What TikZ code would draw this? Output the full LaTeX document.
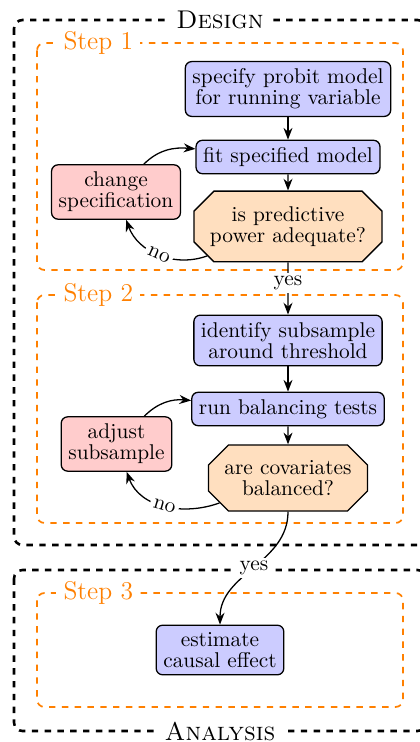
\documentclass[tikz,border=0pt]{standalone}
\usetikzlibrary{shapes.misc,arrows.meta}
\begin{document}
\begin{tikzpicture}[x=0.4684pt,y=-0.4684pt,
  base/.style={draw=black, semithick, align=center, execute at begin node={\baselineskip=9.9pt}},
  proc/.style={base, rounded corners=3pt, fill=blue!20},
  redbox/.style={base, rounded corners=3pt, fill=red!20},
  decide/.style={base, chamfered rectangle, fill=orange!25, chamfered rectangle xsep=6.5pt, inner xsep=1pt, inner ysep=4.3pt},
  arr/.style={-{Stealth[length=5.5pt,width=4.2pt]}, semithick},
  outerbox/.style={draw=black, very thick, dashed, rounded corners=4pt},
  stepbox/.style={draw=orange, thick, dashed, rounded corners=3.5pt},
  steplabel/.style={fill=white, text=orange, font=\large, anchor=west},
  partlabel/.style={fill=white, font=\large\scshape},
  lab/.style={fill=white, inner sep=1.5pt}
]
\useasboundingbox (0,0) rectangle (420,742);
% outer boxes
\draw[outerbox] (14,20) rectangle (426,545);
\draw[outerbox] (14,570) rectangle (426,731);
% step boxes
\draw[stepbox] (37,43) rectangle (403,270);
\draw[stepbox] (37,295) rectangle (403,523);
\draw[stepbox] (37,593) rectangle (403,707);
\node[partlabel] (design) at (220,20) {Design};
\node[partlabel] (analysis) at (220,731) {Analysis};
\node[steplabel] (s1) at (56,43) {Step 1};
\node[steplabel] (s2) at (56,295) {Step 2};
\node[steplabel] (s3) at (56,593) {Step 3};
% nodes
\node[proc] (spec) at (288,89) {specify probit model\\for running variable};
\node[proc] (fit) at (288,157) {fit specified model};
\node[redbox] (change) at (116,192) {change\\specification};
\node[decide] (q1) at (288,226.5) {is predictive\\power adequate?};
\node[proc] (ident) at (288,340.5) {identify subsample\\around threshold};
\node[proc] (run) at (288,409) {run balancing tests};
\node[redbox] (adjust) at (116.5,444) {adjust\\subsample};
\node[decide] (q2) at (288,478) {are covariates\\balanced?};
\node[proc] (est) at (220,650) {estimate\\causal effect};
% connectors
\draw[arr] (spec) -- (fit);
\draw[arr] (fit) -- (q1);
\draw[arr] (q1) -- node[lab,pos=0.39] {yes} (ident);
\draw[arr] (ident) -- (run);
\draw[arr] (run) -- (q2);
\draw[arr] (q1) to[out=200,in=-70] node[lab,sloped] {no} (change);
\draw[arr] (change) to[out=45,in=175] (fit);
\draw[arr] (q2) to[out=200,in=-70] node[lab,sloped] {no} (adjust);
\draw[arr] (adjust) to[out=45,in=175] (run);
\draw[arr] (q2) to[out=-90,in=90] node[lab] {yes} (est);
\end{tikzpicture}
\end{document}
